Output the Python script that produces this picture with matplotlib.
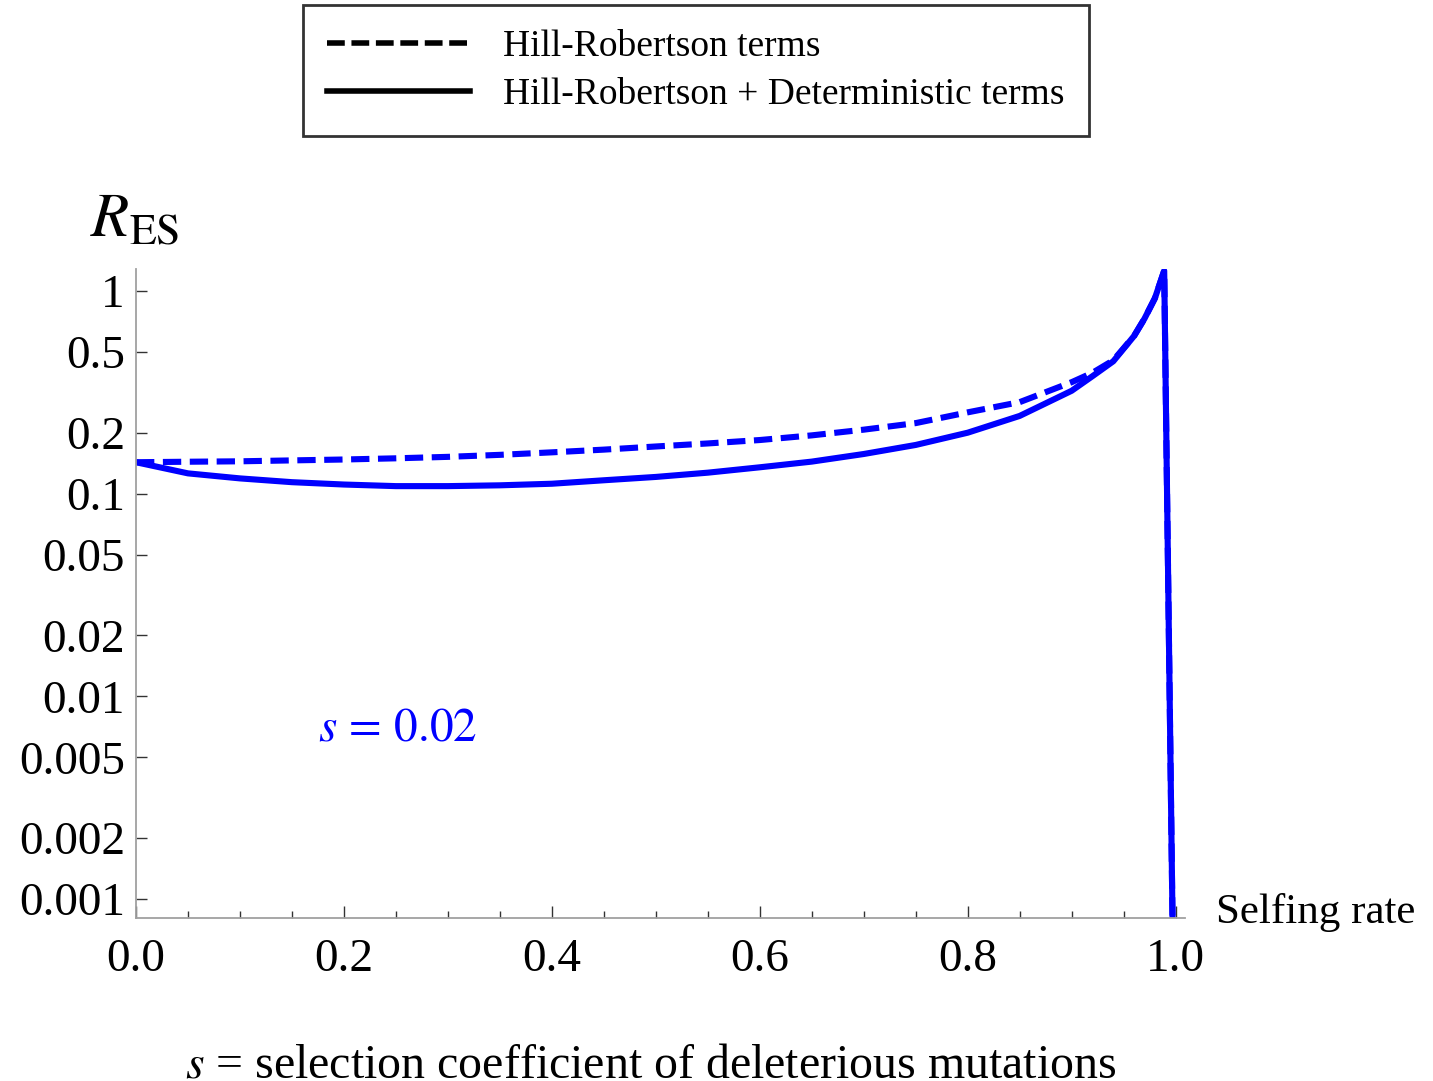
import matplotlib
matplotlib.use('Agg')
import matplotlib.pyplot as plt
from matplotlib.lines import Line2D
from matplotlib import ticker

plt.rcParams['font.family'] = ['Liberation Serif', 'DejaVu Serif']
plt.rcParams['mathtext.fontset'] = 'stix'

# selfing rate and the two R_ES curves (s = 0.02)
selfing = [0.0, 0.05, 0.1, 0.15, 0.2, 0.25, 0.3, 0.35, 0.4, 0.45, 0.5, 0.55, 0.6,
           0.65, 0.7, 0.75, 0.8, 0.85, 0.9, 0.92, 0.94, 0.96, 0.97, 0.98, 0.989, 0.9975]
# Hill-Robertson terms only (dashed)
r_hr = [0.143, 0.1438, 0.1445, 0.146, 0.1475, 0.1495, 0.152, 0.1555, 0.16, 0.165,
        0.171, 0.177, 0.184, 0.194, 0.207, 0.223, 0.252, 0.283, 0.355, 0.395,
        0.455, 0.60, 0.73, 0.92, 1.26, 0.0005]
# Hill-Robertson + deterministic terms (solid)
r_hr_det = [0.143, 0.126, 0.119, 0.114, 0.111, 0.109, 0.109, 0.110, 0.112, 0.1165,
            0.121, 0.127, 0.135, 0.144, 0.157, 0.174, 0.20, 0.242, 0.322, 0.38,
            0.45, 0.60, 0.73, 0.92, 1.26, 0.0005]

y_ticks = [1, 0.5, 0.2, 0.1, 0.05, 0.02, 0.01, 0.005, 0.002, 0.001]
y_tick_labels = ['1', '0.5', '0.2', '0.1', '0.05', '0.02', '0.01', '0.005', '0.002', '0.001']
x_ticks = [0.0, 0.2, 0.4, 0.6, 0.8, 1.0]
x_tick_labels = ['0.0', '0.2', '0.4', '0.6', '0.8', '1.0']

W, H = 1433, 1081
fig = plt.figure(figsize=(W / 100, H / 100), dpi=100)
ax = fig.add_axes([136 / W, 1 - 918 / H, (1185 - 136) / W, (918 - 269) / H])

blue = (0, 0, 1)
ax.plot(selfing, r_hr, color=blue, lw=4.4, dashes=(3.0, 1.4), solid_joinstyle='round')
ax.plot(selfing, r_hr_det, color=blue, lw=4.4, solid_joinstyle='round')

ax.set_yscale('log')
ax.set_xlim(0, 1.009)
ax.set_ylim(0.000807, 1.284)

ax.yaxis.set_major_locator(ticker.FixedLocator(y_ticks))
ax.yaxis.set_major_formatter(ticker.FixedFormatter(y_tick_labels))
ax.yaxis.set_minor_locator(ticker.NullLocator())
ax.xaxis.set_major_locator(ticker.FixedLocator(x_ticks))
ax.xaxis.set_major_formatter(ticker.FixedFormatter(x_tick_labels))
ax.xaxis.set_minor_locator(ticker.MultipleLocator(0.05))

for side in ['top', 'right']:
    ax.spines[side].set_visible(False)
for side in ['left', 'bottom']:
    ax.spines[side].set_color('#a0a0a0')
    ax.spines[side].set_linewidth(1.3)

ax.tick_params(axis='y', which='major', direction='in', length=8, width=1, color='#333333',
               labelsize=34, pad=8)
ax.tick_params(axis='x', which='major', direction='in', length=9, width=1, color='#333333',
               labelsize=34, pad=15)
ax.tick_params(axis='x', which='minor', direction='in', length=5, width=1, color='#333333')

ax.text(0.175, 0.0069, r'$s\,=\,0.02$', color=blue, fontsize=34, ha='left', va='center')

fig.text(90 / W, 1 - 221 / H, r'$R_{\mathrm{ES}}$', fontsize=45, ha='left', va='center')
fig.text(1216 / W, 1 - 913 / H, 'Selfing rate', fontsize=31, ha='left', va='center')
fig.text(651 / W, 1 - 1077 / H, r'$s$ = selection coefficient of deleterious mutations',
         fontsize=34.5, ha='center', va='baseline')

handles = [Line2D([], [], color='black', lw=4, dashes=(3.2, 1.2)),
           Line2D([], [], color='black', lw=4)]
leg = fig.legend(handles, ['Hill-Robertson terms', 'Hill-Robertson + Deterministic terms'],
                 loc='upper center', bbox_to_anchor=(696 / W, 1 - 5 / H), fontsize=27,
                 frameon=True, fancybox=False, edgecolor='black', handlelength=3.8,
                 handletextpad=0.9, borderpad=0.65, labelspacing=0.36, borderaxespad=0)
leg.get_frame().set_linewidth(2)

fig.savefig('out.png', dpi=100)
